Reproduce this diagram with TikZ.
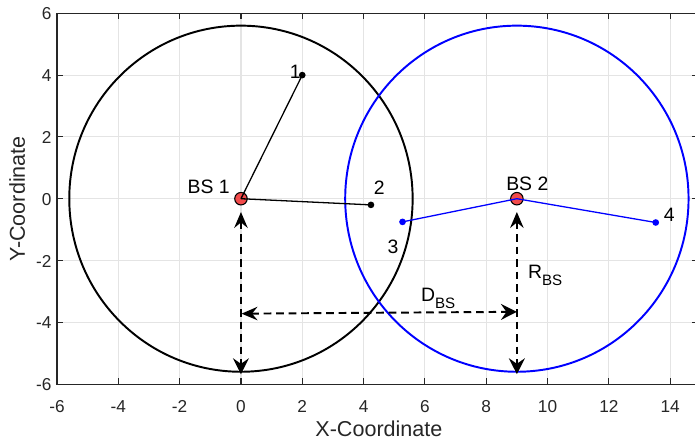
\documentclass[tikz,border=0pt]{standalone}
\usepackage{fontspec}
\setmainfont{Liberation Sans}
\usetikzlibrary{arrows.meta, positioning}
\definecolor{axisc}{HTML}{262626}
\definecolor{gridc}{HTML}{E4E4E4}
\definecolor{bsred}{HTML}{F24B4B}
\definecolor{cellblue}{HTML}{0000FF}
\newcommand{\lowsub}[1]{\raisebox{-3.4pt}{\fontsize{7}{8}\selectfont #1}}
\tikzset{
  gridln/.style={draw=gridc, line width=0.5pt},
  axisln/.style={draw=axisc, line width=0.5pt},
  ticklbl/.style={font=\fontsize{8}{9}\selectfont, text=axisc, inner sep=0pt},
  axlbl/.style={font=\fontsize{10}{12}\selectfont, text=axisc, inner sep=0pt},
  lbl/.style={font=\fontsize{9}{11}\selectfont, inner sep=0pt},
  cell/.style={line width=0.9pt},
  link/.style={line width=0.6pt},
  bs/.style={circle, draw=black, fill=bsred, line width=0.5pt, minimum size=5.8pt, inner sep=0pt},
  ue/.style={circle, fill=#1, minimum size=3.1pt, inner sep=0pt},
  ue/.default=black,
  dimarr/.style={{Stealth[length=2.6mm,width=2.2mm,inset=0.9mm]}-{Stealth[length=2.6mm,width=2.6mm,inset=0.9mm]},
                 line width=0.9pt, dash pattern=on 3.5pt off 2.3pt},
}

\begin{document}
\begin{tikzpicture}[x=0.5cm, y=0.504cm]
\useasboundingbox (-7.86,-7.87) rectangle (14.81,6.43);
\clip (-7.86,-7.87) rectangle (14.81,6.43);

% ---------------- axes and grid ----------------
\foreach \x in {-4,-2,...,14} {
  \draw[gridln] (\x,-6) -- (\x,6);
}
\foreach \y in {-4,-2,...,4} {
  \draw[gridln] (-6,\y) -- (15,\y);
}
\draw[axisln] (15,6) -- (-6,6) -- (-6,-6) -- (15,-6);
\foreach \x in {-6,-4,...,14} {
  \draw[axisln] (\x,-6) -- (\x,-5.8);
  \draw[axisln] (\x,6) -- (\x,5.8);
  \node[ticklbl, anchor=base] at (\x,-6.93) {\x};
}
\foreach \y in {-6,-4,...,6} {
  \draw[axisln] (-6,\y) -- (-5.8,\y);
  \draw[axisln] (15,\y) -- (14.72,\y);
  \node[ticklbl, anchor=base east] at (-6.17,\y-0.21) {\y};
}
\node[axlbl, anchor=base] at (4.5,-7.7) {X-Coordinate};
\node[axlbl, anchor=base, rotate=90] at (-7.05,0) {Y-Coordinate};

% ---------------- base stations and their cells ----------------
\node[bs] (bs1) at (0,0) {};
\node[bs] (bs2) at (9,0) {};
\draw[cell, black] (bs1.center) circle[radius=5.6];
\draw[cell, cellblue] (bs2.center) circle[radius=5.6];

% users of each cell
\node[ue] (u1) at (2,4) {};
\node[ue] (u2) at (4.24,-0.2) {};
\node[ue=cellblue] (u3) at (5.27,-0.75) {};
\node[ue=cellblue] (u4) at (13.53,-0.77) {};
\draw[link, black] (bs1.center) -- (u1.center);
\draw[link, black] (bs1.center) -- (u2.center);
\draw[link, cellblue] (bs2.center) -- (u3.center);
\draw[link, cellblue] (bs2.center) -- (u4.center);

\node[lbl, anchor=base west] at (1.58,3.9) {1};
\node[lbl, anchor=base west] at (4.32,0.12) {2};
\node[lbl, anchor=base west] at (4.77,-1.77) {3};
\node[lbl, anchor=base west] at (13.78,-0.74) {4};
\node[lbl, anchor=base west] at (-1.75,0.17) {BS 1};
\node[lbl, anchor=base west] at (8.64,0.26) {BS 2};

% ---------------- radius and distance ----------------
\coordinate (r1top) at (0,-0.43);
\coordinate (r1bot) at (0,-5.68);
\coordinate (r2top) at (9,-0.43);
\coordinate (r2bot) at (9,-5.68);
\coordinate (dleft) at (0.02,-3.72);
\coordinate (dright) at (9,-3.66);
\draw[dimarr] (r1top) -- (r1bot);
\draw[dimarr] (r2top) -- (r2bot);
\draw[dimarr] (dleft) -- (dright);
\node[lbl, anchor=base west] at (5.86,-3.33) {D\lowsub{BS}};
\node[lbl, anchor=base west] at (9.35,-2.58) {R\lowsub{BS}};
\end{tikzpicture}
\end{document}
